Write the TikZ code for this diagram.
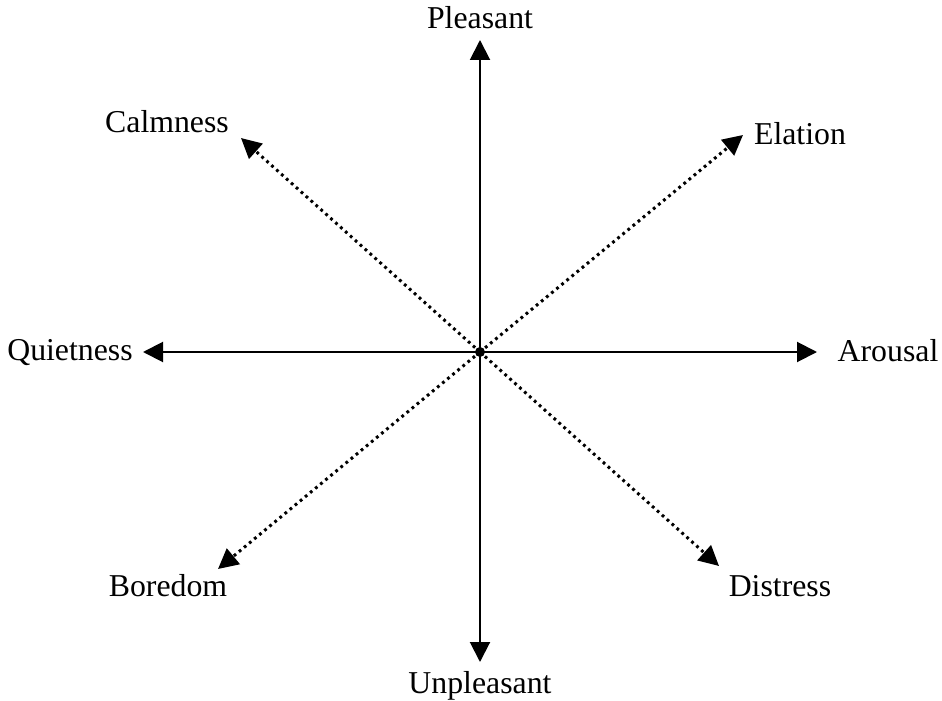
\documentclass[tikz,border=0pt]{standalone}
\usepackage{fontspec}
\setmainfont{Liberation Serif}
\usetikzlibrary{arrows.meta}
\begin{document}
\begin{tikzpicture}[x=0.5pt,y=-0.5pt,
  lbl/.style={font=\fontsize{15.9}{18}\selectfont, inner sep=0pt},
  axis/.style={line width=1pt, -{Triangle[length=10pt,width=10pt]}},
  diag/.style={line width=1.5pt, dash pattern=on 1.4pt off 1.9pt, -{Triangle[length=10pt,width=10pt]}}]
\useasboundingbox (0,0) rectangle (942,701);
\coordinate (c) at (480,352);
\coordinate (tN) at (480,40);
\coordinate (tS) at (480,662);
\coordinate (tW) at (143,352);
\coordinate (tE) at (817,352);
\coordinate (tNE) at (743,135);
\coordinate (tNW) at (241,138);
\coordinate (tSW) at (218,569);
\coordinate (tSE) at (719,566);
\draw[axis] (c) -- (tN);
\draw[axis] (c) -- (tS);
\draw[axis] (c) -- (tW);
\draw[axis] (c) -- (tE);
\draw[diag] (c) -- (tNE);
\draw[diag] (c) -- (tNW);
\draw[diag] (c) -- (tSW);
\draw[diag] (c) -- (tSE);
\fill (c) circle (2.5pt);
\node[lbl] (p) at (480,18) {Pleasant};
\node[lbl] (u) at (480,686) {Unpleasant};
\node[lbl] (q) at (70,353) {Quietness};
\node[lbl] (a) at (888,351) {Arousal};
\node[lbl] (cm) at (167,122) {Calmness};
\node[lbl] (el) at (800,134) {Elation};
\node[lbl] (b) at (168,586) {Boredom};
\node[lbl] (d) at (780,586) {Distress};
\end{tikzpicture}
\end{document}
